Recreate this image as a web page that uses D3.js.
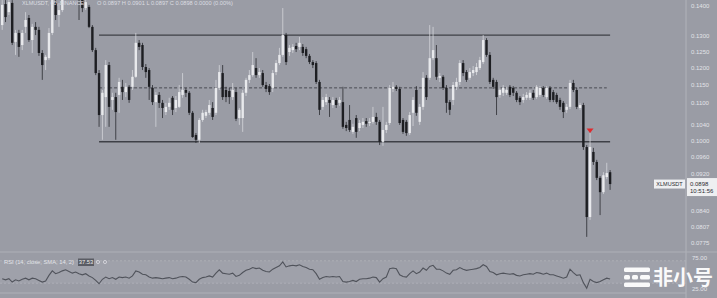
<!DOCTYPE html>
<html>
<head>
<meta charset="utf-8">
<script src="https://cdn.jsdelivr.net/npm/d3@7"></script>
<style>
  body { margin: 0; background: #9a9ca5; }
  svg { display: block; font-family: "Liberation Sans", "DejaVu Sans", sans-serif; }
</style>
</head>
<body>
<div id="chart"></div>
<script>
// XLM/USDT hourly candles
const opens = [
  0.1336, 0.1408, 0.1380, 0.1412, 0.1281, 0.1310, 0.1271, 0.1330, 0.1360, 0.1287,
  0.1330, 0.1320, 0.1246, 0.1224, 0.1230, 0.1310, 0.1412, 0.1370, 0.1387, 0.1440,
  0.1473, 0.1503, 0.1458, 0.1458, 0.1440, 0.1394, 0.1398, 0.1330, 0.1255, 0.1185,
  0.1067, 0.1116, 0.1209, 0.1108, 0.1116, 0.1122, 0.1145, 0.1130, 0.1145, 0.1145,
  0.1174, 0.1278, 0.1271, 0.1203, 0.1194, 0.1142, 0.1102, 0.1122, 0.1100, 0.1075,
  0.1089, 0.1114, 0.1086, 0.1089, 0.1122, 0.1136, 0.1128, 0.1073, 0.1015, 0.1003,
  0.1054, 0.1065, 0.1073, 0.1086, 0.1073, 0.1142, 0.1185, 0.1136, 0.1133, 0.1116,
  0.1130, 0.1059, 0.1059, 0.1128, 0.1165, 0.1179, 0.1200, 0.1179, 0.1185, 0.1150,
  0.1147, 0.1142, 0.1188, 0.1215, 0.1240, 0.1303, 0.1249, 0.1255, 0.1268, 0.1265,
  0.1265, 0.1258, 0.1237, 0.1218, 0.1215, 0.1159, 0.1089, 0.1102, 0.1108, 0.1094,
  0.1108, 0.1100, 0.1102, 0.1041, 0.1054, 0.1023, 0.1059, 0.1033, 0.1041, 0.1051,
  0.1046, 0.1049, 0.1062, 0.1049, 0.0998, 0.1028, 0.1046, 0.1139, 0.1145, 0.1139,
  0.1054, 0.1049, 0.1020, 0.1073, 0.1136, 0.1049, 0.1089, 0.1171, 0.1171, 0.1230,
  0.1230, 0.1171, 0.1174, 0.1142, 0.1102, 0.1108, 0.1145, 0.1159, 0.1215, 0.1188,
  0.1171, 0.1185, 0.1188, 0.1200, 0.1218, 0.1287, 0.1240, 0.1165, 0.1159, 0.1122,
  0.1128, 0.1128, 0.1145, 0.1142, 0.1128, 0.1114, 0.1108, 0.1114, 0.1114, 0.1128,
  0.1116, 0.1122, 0.1142, 0.1116, 0.1142, 0.1130, 0.1122, 0.1108, 0.1100, 0.1081,
  0.1089, 0.1156, 0.1136, 0.1086, 0.1094, 0.0985, 0.0827, 0.0973, 0.0949, 0.0912,
  0.0880, 0.0914, 0.0925
];
const highs = [
  0.1422, 0.1422, 0.1430, 0.1422, 0.1320, 0.1320, 0.1320, 0.1380, 0.1370, 0.1340,
  0.1346, 0.1330, 0.1255, 0.1240, 0.1326, 0.1433, 0.1430, 0.1412, 0.1458, 0.1488,
  0.1514, 0.1518, 0.1495, 0.1473, 0.1451, 0.1433, 0.1405, 0.1336, 0.1262, 0.1194,
  0.1136, 0.1224, 0.1218, 0.1128, 0.1128, 0.1171, 0.1165, 0.1156, 0.1150, 0.1194,
  0.1310, 0.1287, 0.1278, 0.1212, 0.1200, 0.1150, 0.1130, 0.1130, 0.1108, 0.1100,
  0.1114, 0.1119, 0.1119, 0.1150, 0.1185, 0.1142, 0.1133, 0.1078, 0.1020, 0.1059,
  0.1081, 0.1081, 0.1108, 0.1102, 0.1165, 0.1209, 0.1209, 0.1145, 0.1142, 0.1156,
  0.1142, 0.1086, 0.1136, 0.1171, 0.1194, 0.1249, 0.1230, 0.1200, 0.1194, 0.1159,
  0.1153, 0.1194, 0.1224, 0.1262, 0.1394, 0.1310, 0.1271, 0.1274, 0.1278, 0.1297,
  0.1274, 0.1265, 0.1243, 0.1224, 0.1221, 0.1165, 0.1116, 0.1125, 0.1116, 0.1116,
  0.1114, 0.1116, 0.1145, 0.1049, 0.1094, 0.1044, 0.1067, 0.1054, 0.1059, 0.1059,
  0.1059, 0.1089, 0.1073, 0.1054, 0.1089, 0.1049, 0.1150, 0.1159, 0.1150, 0.1145,
  0.1059, 0.1054, 0.1075, 0.1116, 0.1147, 0.1097, 0.1188, 0.1179, 0.1336, 0.1330,
  0.1271, 0.1185, 0.1179, 0.1150, 0.1108, 0.1159, 0.1171, 0.1224, 0.1224, 0.1194,
  0.1200, 0.1206, 0.1215, 0.1234, 0.1303, 0.1293, 0.1249, 0.1171, 0.1165, 0.1145,
  0.1150, 0.1145, 0.1150, 0.1147, 0.1133, 0.1119, 0.1125, 0.1130, 0.1136, 0.1136,
  0.1150, 0.1147, 0.1147, 0.1147, 0.1147, 0.1136, 0.1128, 0.1114, 0.1105, 0.1097,
  0.1165, 0.1165, 0.1142, 0.1100, 0.1100, 0.0990, 0.1020, 0.0983, 0.0954, 0.0916,
  0.0925, 0.0947, 0.0930
];
const lows = [
  0.1320, 0.1346, 0.1370, 0.1271, 0.1240, 0.1234, 0.1255, 0.1310, 0.1281, 0.1246,
  0.1303, 0.1237, 0.1165, 0.1194, 0.1224, 0.1303, 0.1353, 0.1330, 0.1380, 0.1433,
  0.1458, 0.1451, 0.1440, 0.1353, 0.1380, 0.1387, 0.1326, 0.1249, 0.1179, 0.1036,
  0.1003, 0.1036, 0.1036, 0.1081, 0.1003, 0.1073, 0.1108, 0.1116, 0.1100, 0.1136,
  0.1171, 0.1255, 0.1194, 0.1171, 0.1108, 0.1094, 0.1036, 0.1086, 0.1059, 0.1067,
  0.1081, 0.1067, 0.1075, 0.1086, 0.1114, 0.1116, 0.1067, 0.1008, 0.0995, 0.0995,
  0.1049, 0.1059, 0.1067, 0.1054, 0.1067, 0.1136, 0.1108, 0.1102, 0.1097, 0.1108,
  0.1051, 0.1041, 0.1023, 0.1119, 0.1156, 0.1174, 0.1171, 0.1171, 0.1145, 0.1130,
  0.1122, 0.1130, 0.1179, 0.1209, 0.1234, 0.1209, 0.1237, 0.1246, 0.1249, 0.1255,
  0.1237, 0.1230, 0.1212, 0.1200, 0.1153, 0.1067, 0.1081, 0.1094, 0.1062, 0.1086,
  0.1086, 0.1092, 0.1031, 0.1025, 0.1023, 0.1018, 0.1008, 0.1025, 0.1033, 0.1036,
  0.1038, 0.1044, 0.1041, 0.0990, 0.0988, 0.1020, 0.1041, 0.1130, 0.1133, 0.1041,
  0.1018, 0.1013, 0.1015, 0.1038, 0.1065, 0.1041, 0.1081, 0.1108, 0.1165, 0.1224,
  0.1165, 0.1159, 0.1136, 0.1073, 0.1067, 0.1094, 0.1136, 0.1150, 0.1176, 0.1159,
  0.1165, 0.1176, 0.1179, 0.1194, 0.1212, 0.1234, 0.1153, 0.1139, 0.1067, 0.1114,
  0.1119, 0.1122, 0.1116, 0.1119, 0.1102, 0.1094, 0.1100, 0.1108, 0.1108, 0.1108,
  0.1111, 0.1116, 0.1116, 0.1111, 0.1102, 0.1102, 0.1097, 0.1081, 0.1059, 0.1073,
  0.1083, 0.1130, 0.1083, 0.1081, 0.0978, 0.0787, 0.0821, 0.0942, 0.0907, 0.0831,
  0.0876, 0.0909, 0.0885
];
const closes = [
  0.1405, 0.1363, 0.1415, 0.1278, 0.1310, 0.1265, 0.1310, 0.1353, 0.1287, 0.1330,
  0.1320, 0.1246, 0.1209, 0.1234, 0.1310, 0.1422, 0.1370, 0.1387, 0.1440, 0.1477,
  0.1503, 0.1466, 0.1488, 0.1422, 0.1394, 0.1415, 0.1330, 0.1255, 0.1185, 0.1067,
  0.1128, 0.1209, 0.1089, 0.1116, 0.1075, 0.1159, 0.1130, 0.1145, 0.1108, 0.1174,
  0.1278, 0.1265, 0.1203, 0.1188, 0.1145, 0.1102, 0.1122, 0.1100, 0.1086, 0.1089,
  0.1100, 0.1081, 0.1108, 0.1130, 0.1136, 0.1128, 0.1073, 0.1010, 0.1003, 0.1054,
  0.1073, 0.1075, 0.1094, 0.1062, 0.1142, 0.1188, 0.1116, 0.1116, 0.1116, 0.1136,
  0.1057, 0.1081, 0.1128, 0.1165, 0.1179, 0.1209, 0.1179, 0.1188, 0.1150, 0.1139,
  0.1130, 0.1185, 0.1215, 0.1240, 0.1303, 0.1218, 0.1262, 0.1265, 0.1258, 0.1278,
  0.1246, 0.1237, 0.1218, 0.1209, 0.1159, 0.1081, 0.1108, 0.1116, 0.1100, 0.1108,
  0.1094, 0.1108, 0.1036, 0.1033, 0.1028, 0.1036, 0.1023, 0.1046, 0.1049, 0.1044,
  0.1049, 0.1062, 0.1049, 0.0998, 0.1028, 0.1041, 0.1142, 0.1145, 0.1139, 0.1046,
  0.1023, 0.1020, 0.1067, 0.1108, 0.1073, 0.1089, 0.1171, 0.1116, 0.1230, 0.1255,
  0.1174, 0.1176, 0.1142, 0.1100, 0.1081, 0.1150, 0.1159, 0.1215, 0.1185, 0.1165,
  0.1188, 0.1194, 0.1203, 0.1224, 0.1287, 0.1240, 0.1159, 0.1145, 0.1116, 0.1136,
  0.1142, 0.1136, 0.1122, 0.1128, 0.1108, 0.1102, 0.1116, 0.1122, 0.1128, 0.1114,
  0.1145, 0.1142, 0.1122, 0.1142, 0.1108, 0.1108, 0.1102, 0.1089, 0.1075, 0.1089,
  0.1156, 0.1136, 0.1089, 0.1094, 0.0985, 0.0827, 0.0985, 0.0949, 0.0912, 0.0880,
  0.0918, 0.0923, 0.0898
];
const rsiValues = [
  38, 36, 38, 32, 36, 34, 37, 39, 36, 39,
  38, 35, 32, 34, 44, 52, 47, 49, 52, 54,
  51, 48, 50, 47, 45, 47, 43, 40, 35, 29,
  37, 41, 38, 40, 37, 41, 40, 41, 39, 43,
  52, 50, 46, 45, 41, 39, 40, 39, 38, 39,
  40, 38, 39, 41, 42, 41, 37, 32, 31, 37,
  40, 41, 43, 41, 48, 54, 48, 47, 46, 48,
  42, 44, 49, 53, 55, 58, 56, 57, 53, 51,
  50, 55, 58, 61, 68, 59, 61, 62, 61, 63,
  60, 58, 55, 54, 47, 37, 40, 42, 41, 42,
  41, 42, 33, 32, 33, 35, 33, 37, 38, 38,
  39, 41, 40, 32, 38, 41, 56, 57, 56, 45,
  42, 41, 47, 52, 47, 50, 57, 53, 60, 62,
  55, 55, 52, 48, 46, 53, 54, 58, 55, 53,
  54, 55, 56, 58, 63, 60, 51, 49, 45, 47,
  48, 47, 46, 47, 44, 43, 45, 46, 47, 46,
  49, 48, 46, 48, 45, 45, 43, 41, 39, 41,
  55, 49, 44, 45, 31, 21, 37, 33, 31, 33, 36, 39, 37.53
];

const priceTicks = [0.1400, 0.1300, 0.1250, 0.1200, 0.1150, 0.1100, 0.1040, 0.1000, 0.0960, 0.0920, 0.0840, 0.0807, 0.0775];
const rsiTicks = [75, 25];
const resistance = 0.1303;
const support = 0.0998;
const midLevel = 0.1142;
const levelFrom = 29;      // candle index where the drawn lines begin
const levelTo = 182;
const signalIndex = 176;   // red marker
const signalPrice = 0.1025;
const symbol = 'XLMUSDT';
const clockText = '10:51:56';
const titleText = 'XLMUSDT, 60, BINANCE';
const ohlcText = 'O 0.0897  H 0.0901  L 0.0897  C 0.0898  0.0000 (0.00%)';
const rsiTitle = 'RSI (14, close, SMA, 14, 2)';

const W = 717, H = 298;
const bg = '#9a9ca5';
const bullColor = '#e8e9ec', bearColor = '#1d1e22';

const svg = d3.select('#chart').append('svg')
  .attr('width', W)
  .attr('height', H);

svg.append('rect').attr('width', W).attr('height', H).attr('fill', bg);

const x = d3.scaleLinear().domain([0, closes.length - 1]).range([2.2, 610.1]);
const y = d3.scaleLog().domain([0.10, 0.13]).range([141, 36]);
const yRsi = d3.scaleLinear().domain([25, 75]).range([286, 258]);

svg.append('clipPath').attr('id', 'main-clip')
  .append('rect').attr('x', 0).attr('y', 0).attr('width', 686).attr('height', 251);

const main = svg.append('g').attr('clip-path', 'url(#main-clip)');

// horizontal levels
[resistance, support].forEach(p => {
  main.append('line')
    .attr('x1', x(levelFrom)).attr('x2', x(levelTo))
    .attr('y1', y(p)).attr('y2', y(p))
    .attr('stroke', '#3e4047')
    .attr('stroke-width', 1.4);
});
main.append('line')
  .attr('x1', x(levelFrom)).attr('x2', x(levelTo - 1))
  .attr('y1', y(midLevel)).attr('y2', y(midLevel))
  .attr('stroke', '#4a4c53')
  .attr('stroke-width', 1)
  .attr('stroke-dasharray', '3,2');

// candles
const candles = closes.map((c, i) => ({ i, o: opens[i], h: highs[i], l: lows[i], c }));
const bodyW = 2.4;

main.selectAll('.wick')
  .data(candles)
  .enter().append('line')
  .attr('class', 'wick')
  .attr('x1', d => x(d.i)).attr('x2', d => x(d.i))
  .attr('y1', d => y(d.h)).attr('y2', d => y(d.l))
  .attr('stroke', d => d.c >= d.o ? '#d4d5da' : '#2a2b30')
  .attr('stroke-width', 0.8);

main.selectAll('.body')
  .data(candles)
  .enter().append('rect')
  .attr('class', 'body')
  .attr('x', d => x(d.i) - bodyW / 2)
  .attr('y', d => y(Math.max(d.o, d.c)))
  .attr('width', bodyW)
  .attr('height', d => Math.max(1, Math.abs(y(d.o) - y(d.c))))
  .attr('fill', d => d.c >= d.o ? bullColor : bearColor);

// red signal marker
const sx = x(signalIndex), sy = y(signalPrice);
main.append('path')
  .attr('d', `M${sx - 3.5},${sy - 2.5} L${sx + 3.5},${sy - 2.5} L${sx},${sy + 2} Z`)
  .attr('fill', '#e0282c');

// header legend, sitting at the very top like the screenshot
svg.append('text')
  .attr('x', 22).attr('y', 5)
  .attr('font-size', 5.5)
  .attr('fill', '#dcdde2')
  .attr('textLength', 62)
  .attr('lengthAdjust', 'spacingAndGlyphs')
  .text(titleText);
svg.append('text')
  .attr('x', 97).attr('y', 5)
  .attr('font-size', 5.5)
  .attr('fill', '#dcdde2')
  .attr('textLength', 136)
  .attr('lengthAdjust', 'spacingAndGlyphs')
  .text(ohlcText);

// price scale
svg.append('line')
  .attr('x1', 686).attr('x2', 686).attr('y1', 0).attr('y2', H)
  .attr('stroke', '#b1b3ba').attr('stroke-width', 1);

svg.selectAll('.ptick')
  .data(priceTicks)
  .enter().append('text')
  .attr('class', 'ptick')
  .attr('x', 691)
  .attr('y', d => y(d) + 2)
  .attr('font-size', 6)
  .attr('fill', '#e2e3e8')
  .text(d => d.toFixed(4));

// last price label
const last = closes[closes.length - 1];
const ly = y(last);
svg.append('rect')
  .attr('x', 654).attr('y', ly - 4.5).attr('width', 31).attr('height', 9)
  .attr('fill', '#eeeff1');
svg.append('text')
  .attr('x', 669.5).attr('y', ly + 2)
  .attr('text-anchor', 'middle')
  .attr('font-size', 5.5)
  .attr('fill', '#2b2c31')
  .text(symbol);
svg.append('rect')
  .attr('x', 687).attr('y', ly - 6).attr('width', 30).attr('height', 18)
  .attr('fill', '#eeeff1');
svg.append('text')
  .attr('x', 690).attr('y', ly + 1.5)
  .attr('font-size', 6)
  .attr('fill', '#2b2c31')
  .text(last.toFixed(4));
svg.append('text')
  .attr('x', 690).attr('y', ly + 9)
  .attr('font-size', 6)
  .attr('fill', '#2b2c31')
  .text(clockText);

// RSI pane
svg.append('line')
  .attr('x1', 0).attr('x2', W).attr('y1', 252).attr('y2', 252)
  .attr('stroke', '#aeb0b7').attr('stroke-width', 1);
svg.append('line')
  .attr('x1', 0).attr('x2', 686).attr('y1', 293).attr('y2', 293)
  .attr('stroke', '#aeb0b7').attr('stroke-width', 1);

svg.append('rect')
  .attr('x', 0).attr('width', 686)
  .attr('y', yRsi(70)).attr('height', yRsi(30) - yRsi(70))
  .attr('fill', '#ffffff').attr('opacity', 0.06);
[70, 30].forEach(v => {
  svg.append('line')
    .attr('x1', 0).attr('x2', 686)
    .attr('y1', yRsi(v)).attr('y2', yRsi(v))
    .attr('stroke', '#b4b6bd').attr('stroke-width', 0.7)
    .attr('stroke-dasharray', '2,2');
});

const rsiLine = d3.line()
  .x((d, i) => x(i))
  .y(d => yRsi(d));

svg.append('path')
  .datum(rsiValues)
  .attr('fill', 'none')
  .attr('stroke', '#50535b')
  .attr('stroke-width', 1.1)
  .attr('d', rsiLine);

svg.append('text')
  .attr('x', 4).attr('y', 264)
  .attr('font-size', 5.5)
  .attr('fill', '#e2e3e8')
  .attr('textLength', 70)
  .attr('lengthAdjust', 'spacingAndGlyphs')
  .text(rsiTitle);
svg.append('rect')
  .attr('x', 78).attr('y', 258.5).attr('width', 16).attr('height', 7.5)
  .attr('fill', '#5a5c64');
svg.append('text')
  .attr('x', 86).attr('y', 264)
  .attr('text-anchor', 'middle')
  .attr('font-size', 5.8)
  .attr('fill', '#eeeeee')
  .text(rsiValues[rsiValues.length - 1].toFixed(2));
[98, 105].forEach(cx => {
  svg.append('circle').attr('cx', cx).attr('cy', 262).attr('r', 1.6)
    .attr('fill', 'none').attr('stroke', '#e2e3e8').attr('stroke-width', 0.7);
});

svg.selectAll('.rtick')
  .data(rsiTicks)
  .enter().append('text')
  .attr('class', 'rtick')
  .attr('x', 692)
  .attr('y', d => d === 25 ? yRsi(d) + 4.5 : yRsi(d) + 2)
  .attr('font-size', 6)
  .attr('fill', '#e2e3e8')
  .text(d => d.toFixed(2));

// watermark
const wm = svg.append('g').attr('fill', '#ffffff').attr('opacity', 0.95);
wm.append('rect').attr('x', 624).attr('y', 267.5).attr('width', 26).attr('height', 4.5).attr('rx', 1.5);
wm.append('rect').attr('x', 624).attr('y', 275).attr('width', 6).attr('height', 4.5).attr('rx', 1.5);
wm.append('rect').attr('x', 632).attr('y', 275).attr('width', 6).attr('height', 4.5).attr('rx', 1.5);
wm.append('rect').attr('x', 640).attr('y', 275).attr('width', 10).attr('height', 4.5).attr('rx', 1.5);
wm.append('rect').attr('x', 624).attr('y', 282.5).attr('width', 26).attr('height', 4.5).attr('rx', 1.5);
wm.append('text')
  .attr('x', 653).attr('y', 284.5)
  .attr('font-family', '"Noto Sans CJK SC", sans-serif')
  .attr('font-weight', 'bold')
  .attr('font-size', 20)
  .text('非小号');
</script>
</body>
</html>
